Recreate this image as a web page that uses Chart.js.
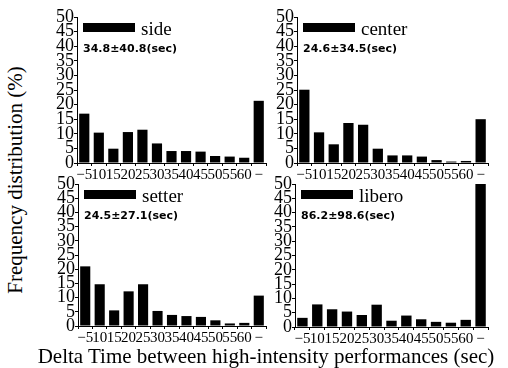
<!DOCTYPE html>
<html>
<head>
<meta charset="utf-8">
<script src="https://cdn.jsdelivr.net/npm/chart.js@4/dist/chart.umd.min.js"></script>
<style>
  body { margin: 0; background: #fff; }
  #wrap { position: relative; width: 508px; height: 368px; overflow: hidden; }
  canvas { position: absolute; }
  .title { position: absolute; font-family: "Liberation Serif", serif; color: #000; white-space: nowrap; }
</style>
</head>
<body>
<div id="wrap">
  <canvas id="side"></canvas>
  <canvas id="center"></canvas>
  <canvas id="setter"></canvas>
  <canvas id="libero"></canvas>
  <div class="title" id="ytitle" style="font-size:21px; left:15px; top:180px; transform: translate(-50%, -50%) rotate(-90deg);">Frequency distribution (%)</div>
  <div class="title" id="xtitle" style="font-size:21px; left:266px; top:356px; transform: translate(-50%, -50%);">Delta Time between high-intensity performances (sec)</div>
</div>
<script>
// bins (sec)
const categories = ["\u22125", "10", "15", "20", "25", "30", "35", "40", "45", "50", "55", "60", "\u2212"];
const yTicks = [0, 5, 10, 15, 20, 25, 30, 35, 40, 45, 50];

// frequency (%) per position
const sideValues = [16.9, 10.4, 4.9, 10.6, 11.4, 6.7, 4.1, 4.1, 3.9, 2.4, 2.2, 1.8, 21.3];
const centerValues = [25.1, 10.5, 6.4, 13.7, 13.1, 4.9, 2.6, 2.6, 2.2, 1.0, 0.5, 0.7, 15.0];
const setterValues = [21.0, 14.7, 5.5, 12.2, 14.7, 5.3, 3.9, 3.5, 3.2, 2.0, 0.9, 1.1, 10.7];
const liberoValues = [3.2, 7.9, 6.2, 5.4, 4.2, 7.8, 2.2, 4.0, 2.7, 1.8, 1.5, 2.5, 50];

const positions = ["side", "center", "setter", "libero"];
const meanSd = ["34.8\u00b140.8(sec)", "24.6\u00b134.5(sec)", "24.5\u00b127.1(sec)", "86.2\u00b198.6(sec)"];

// canvas boxes: left, top, width, height
const boxes = [
  [37, 7, 235, 176],
  [257, 7, 237, 176],
  [38, 174, 234, 172],
  [255, 174, 239, 173],
];

const seriesList = [sideValues, centerValues, setterValues, liberoValues];

const SERIF = "'Liberation Serif', 'Times New Roman', serif";

// legend box + mean±sd inside the plot
const insideLegend = {
  id: "insideLegend",
  afterDraw(chart, args, opts) {
    const ctx = chart.ctx;
    const a = chart.chartArea;
    ctx.save();
    ctx.fillStyle = "#000";
    ctx.fillRect(a.left + 6, a.top + 6, 52, 9);
    ctx.font = "19px " + SERIF;
    ctx.textBaseline = "alphabetic";
    ctx.fillText(opts.label, a.left + 64, a.top + 18);
    ctx.font = "bold 11px 'DejaVu Sans', sans-serif";
    ctx.fillText(opts.stat, a.left + 6, a.top + 35);
    ctx.restore();
  },
};

function draw() {
  positions.forEach((name, i) => {
    const el = document.getElementById(name);
    const [l, t, w, h] = boxes[i];
    el.style.left = l + "px";
    el.style.top = t + "px";
    el.width = w;
    el.height = h;
    el.style.width = w + "px";
    el.style.height = h + "px";

    new Chart(el, {
      type: "bar",
      data: {
        labels: categories,
        datasets: [
          {
            label: name,
            data: seriesList[i],
            backgroundColor: "#000",
            barPercentage: 0.7,
            categoryPercentage: 1,
          },
        ],
      },
      options: {
        responsive: false,
        animation: false,
        layout: { padding: { top: 10, right: 6, left: 0, bottom: 0 } },
        plugins: {
          legend: { display: false },
          tooltip: { enabled: false },
          insideLegend: { label: name, stat: meanSd[i] },
        },
        scales: {
          x: {
            offset: true,
            afterFit: (s) => { s.height = 20; },
            grid: { display: true, drawOnChartArea: false, tickLength: 3, color: "#000", offset: true },
            border: { display: true, color: "#000", width: 1 },
            ticks: {
              autoSkip: false,
              maxRotation: 0,
              padding: 0,
              color: "#000",
              font: { family: SERIF, size: 15 },
            },
          },
          y: {
            min: 0,
            max: 50,
            afterFit: (s) => { s.width = 40; },
            afterBuildTicks: (s) => { s.ticks = yTicks.map((v) => ({ value: v })); },
            grid: { display: true, drawOnChartArea: false, tickLength: 3, color: "#000" },
            border: { display: true, color: "#000", width: 1 },
            ticks: {
              autoSkip: false,
              padding: 0,
              color: "#000",
              font: { family: SERIF, size: 18, lineHeight: 1 },
            },
          },
        },
      },
      plugins: [insideLegend],
    });
  });
}

Promise.all([
  document.fonts.load("18px 'Liberation Serif'"),
  document.fonts.load("bold 11px 'DejaVu Sans'"),
]).then(draw, draw);
</script>
</body>
</html>
